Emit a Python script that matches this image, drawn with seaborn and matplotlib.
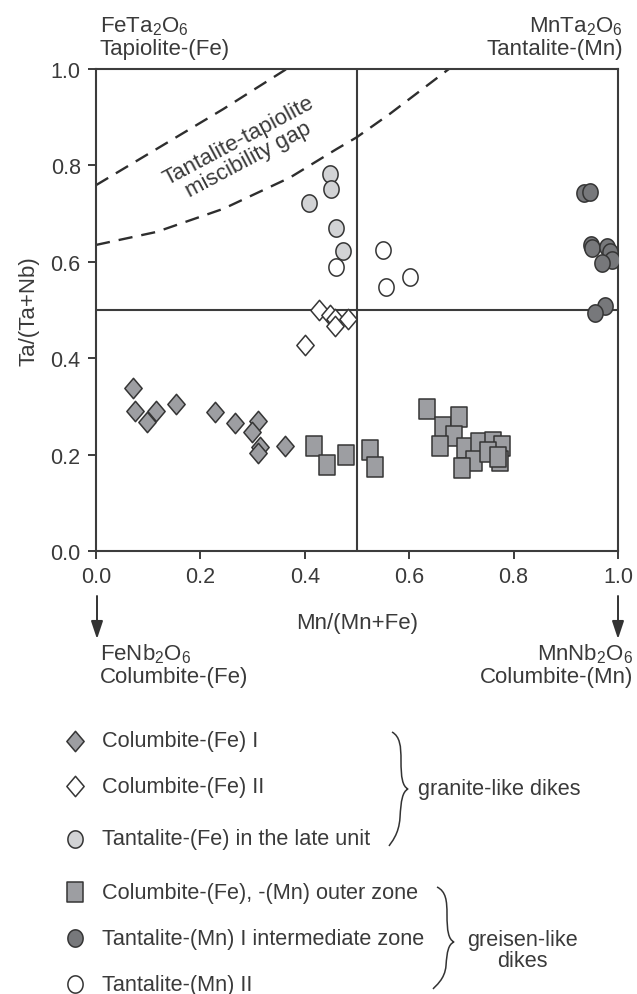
import numpy as np
import pandas as pd
import matplotlib
matplotlib.use("Agg")
import matplotlib.pyplot as plt
from matplotlib.path import Path
from matplotlib.patches import PathPatch
import seaborn as sns

# ---------------- data ----------------
colfe1_x = [0.070, 0.075, 0.097, 0.114, 0.153, 0.228, 0.266, 0.311, 0.298, 0.314, 0.311, 0.363]
colfe1_y = [0.338, 0.291, 0.268, 0.290, 0.305, 0.288, 0.265, 0.270, 0.246, 0.215, 0.203, 0.218]

colfe2_x = [0.400, 0.428, 0.448, 0.458, 0.458, 0.483]
colfe2_y = [0.427, 0.499, 0.490, 0.482, 0.467, 0.481]

tafe_x = [0.448, 0.450, 0.408, 0.459, 0.473]
tafe_y = [0.782, 0.751, 0.723, 0.670, 0.623]

colouter_x = [0.418, 0.443, 0.479, 0.524, 0.534, 0.635, 0.665, 0.695, 0.686, 0.659,
              0.707, 0.734, 0.761, 0.777, 0.774, 0.724, 0.750, 0.771, 0.702]
colouter_y = [0.218, 0.179, 0.200, 0.210, 0.175, 0.295, 0.258, 0.277, 0.238, 0.218,
              0.213, 0.225, 0.227, 0.218, 0.187, 0.187, 0.206, 0.196, 0.172]

tamn1_x = [0.934, 0.946, 0.948, 0.951, 0.978, 0.985, 0.988, 0.969, 0.975, 0.955]
tamn1_y = [0.742, 0.744, 0.635, 0.628, 0.630, 0.620, 0.604, 0.598, 0.509, 0.494]

tamn2_x = [0.459, 0.549, 0.555, 0.602]
tamn2_y = [0.589, 0.624, 0.547, 0.568]

gap_upper_x = [0.0, 0.116, 0.244, 0.365]
gap_upper_y = [0.759, 0.834, 0.917, 1.0]
gap_lower_x = [0.0, 0.116, 0.244, 0.372, 0.461, 0.499, 0.563, 0.676]
gap_lower_y = [0.635, 0.662, 0.710, 0.775, 0.834, 0.858, 0.907, 1.0]

x_ticks = [0.0, 0.2, 0.4, 0.6, 0.8, 1.0]
y_ticks = [0.0, 0.2, 0.4, 0.6, 0.8, 1.0]

legend_labels = ["Columbite-(Fe) I", "Columbite-(Fe) II", "Tantalite-(Fe) in the late unit",
                 "Columbite-(Fe), -(Mn) outer zone", "Tantalite-(Mn) I intermediate zone",
                 "Tantalite-(Mn) II"]

# ---------------- style ----------------
sns.set_theme(style="ticks")
plt.rcParams["font.family"] = ["Liberation Sans", "DejaVu Sans"]
plt.rcParams["mathtext.default"] = "regular"
TXT = "#3a3a3a"
EDGE = "#353535"
MID = "#9d9ea2"
DARK = "#77787b"
LIGHT = "#d2d3d5"
FS = 16
FL = 15.6
FT = 15.5

# custom (slightly tall) markers
diamond = Path([(0, 1), (0.85, 0), (0, -1), (-0.85, 0), (0, 1)],
               [Path.MOVETO, Path.LINETO, Path.LINETO, Path.LINETO, Path.CLOSEPOLY])
rect = Path([(-0.8, -1), (0.8, -1), (0.8, 1), (-0.8, 1), (-0.8, -1)],
            [Path.MOVETO, Path.LINETO, Path.LINETO, Path.LINETO, Path.CLOSEPOLY])
t = np.linspace(0, 2 * np.pi, 60)
ellipse = Path(np.column_stack([0.88 * np.cos(t), np.sin(t)]), closed=True)

W, H = 637, 995
fig = plt.figure(figsize=(W / 100, H / 100), dpi=100)
ax = fig.add_axes([96 / W, 1 - 552 / H, (618 - 96) / W, (552 - 70) / H])

groups = [
    (colfe1_x, colfe1_y, diamond, MID, 215),
    (colfe2_x, colfe2_y, diamond, "white", 215),
    (tafe_x, tafe_y, ellipse, LIGHT, 155),
    (colouter_x, colouter_y, rect, MID, 200),
    (tamn1_x, tamn1_y, ellipse, DARK, 155),
    (tamn2_x, tamn2_y, ellipse, "white", 155),
]

# reference lines and miscibility gap
ax.axhline(0.5, color="#3c3c3c", lw=1.5, zorder=1)
ax.axvline(0.5, color="#3c3c3c", lw=1.5, zorder=1)
sns.lineplot(x=gap_upper_x, y=gap_upper_y, ax=ax, color="#2e2e2e", lw=1.7,
             sort=False).lines[-1].set_dashes((6.0, 3.8))
sns.lineplot(x=gap_lower_x, y=gap_lower_y, ax=ax, color="#2e2e2e", lw=1.7,
             sort=False).lines[-1].set_dashes((6.0, 3.8))

for gx, gy, mk, fc, s in groups:
    df = pd.DataFrame({"x": gx, "y": gy})
    sns.scatterplot(data=df, x="x", y="y", ax=ax, marker=mk, s=s, color=fc,
                    edgecolor=EDGE, linewidth=1.1, zorder=3)

ax.text(0.283, 0.832, "Tantalite-tapiolite\nmiscibility gap", rotation=28,
        ha="center", va="center", fontsize=FS, color=TXT, linespacing=1.0,
        rotation_mode="anchor")

ax.set_xlim(0, 1)
ax.set_ylim(0, 1)
ax.set_xticks(x_ticks)
ax.set_yticks(y_ticks)
ax.set_xticklabels([f"{v:.1f}" for v in x_ticks])
ax.set_yticklabels([f"{v:.1f}" for v in y_ticks])
ax.tick_params(axis="both", direction="out", length=6, width=1.4, color="#3c3c3c",
               labelsize=FT, labelcolor=TXT, pad=5)
for sp in ax.spines.values():
    sp.set_color("#3c3c3c")
    sp.set_linewidth(1.5)
ax.set_xlabel("Mn/(Mn+Fe)", fontsize=FS, color=TXT, labelpad=18)
ax.set_ylabel("Ta/(Ta+Nb)", fontsize=FS, color=TXT, labelpad=8)

# ---------------- overlay (pixel coords) ----------------
ov = fig.add_axes([0, 0, 1, 1], facecolor="none")
ov.set_xlim(0, W)
ov.set_ylim(H, 0)
ov.axis("off")

ov.text(100, 27, "FeTa$_2$O$_6$", fontsize=FS, color=TXT, va="center", ha="left")
ov.text(100, 50, "Tapiolite-(Fe)", fontsize=FS, color=TXT, va="center", ha="left")
ov.text(623, 27, "MnTa$_2$O$_6$", fontsize=FS, color=TXT, va="center", ha="right")
ov.text(623, 50, "Tantalite-(Mn)", fontsize=FS, color=TXT, va="center", ha="right")

for xa in (97, 618):
    ov.annotate("", xy=(xa, 640), xytext=(xa, 597),
                arrowprops=dict(arrowstyle="-|>,head_length=0.9,head_width=0.3",
                                color="#333333", lw=1.4, shrinkA=0, shrinkB=0))
ov.text(100, 654, "FeNb$_2$O$_6$", fontsize=FS, color=TXT, va="center", ha="left")
ov.text(100, 677, "Columbite-(Fe)", fontsize=FS, color=TXT, va="center", ha="left")
ov.text(633, 654, "MnNb$_2$O$_6$", fontsize=FS, color=TXT, va="center", ha="right")
ov.text(633, 677, "Columbite-(Mn)", fontsize=FS, color=TXT, va="center", ha="right")

# legend
leg_y = [742, 787, 840, 893, 939, 985]
for (gx, gy, mk, fc, s), ly, lab in zip(groups, leg_y, legend_labels):
    ov.scatter([75], [ly], marker=mk, s=s, color=fc, edgecolor=EDGE, linewidth=1.1)
    ov.text(102, ly, lab, fontsize=FL, color=TXT, va="center", ha="left")


def brace(x0, d, w, y0, y1, ym, xend_bot):
    L1 = ym - y0
    L2 = y1 - ym
    verts = [
        (x0, y0),
        (x0 + d * 0.9, y0 + 0.08 * L1), (x0 + d, y0 + 0.25 * L1), (x0 + d, y0 + 0.5 * L1),
        (x0 + d, y0 + 0.8 * L1), (x0 + d + 0.2 * (w - d), ym - 0.05 * L1), (x0 + w, ym),
        (x0 + d + 0.2 * (w - d), ym + 0.05 * L2), (x0 + d, ym + 0.2 * L2), (x0 + d - 1, ym + 0.5 * L2),
        (x0 + d - 2, y1 - 0.2 * L2), (xend_bot + 2, y1 - 0.06 * L2), (xend_bot, y1),
    ]
    codes = [Path.MOVETO] + [Path.CURVE4] * 12
    ov.add_patch(PathPatch(Path(verts, codes), fill=False, ec="#333333", lw=1.1))


brace(392, 9, 16, 733, 847, 790, 389)
brace(437, 10, 17, 888, 990, 943, 433)
ov.text(418, 790, "granite-like dikes", fontsize=FL, color=TXT, va="center", ha="left")
ov.text(522, 951, "greisen-like\ndikes", fontsize=FL, color=TXT, va="center",
        ha="center", linespacing=1.0)

fig.savefig("out.png", dpi=100)
